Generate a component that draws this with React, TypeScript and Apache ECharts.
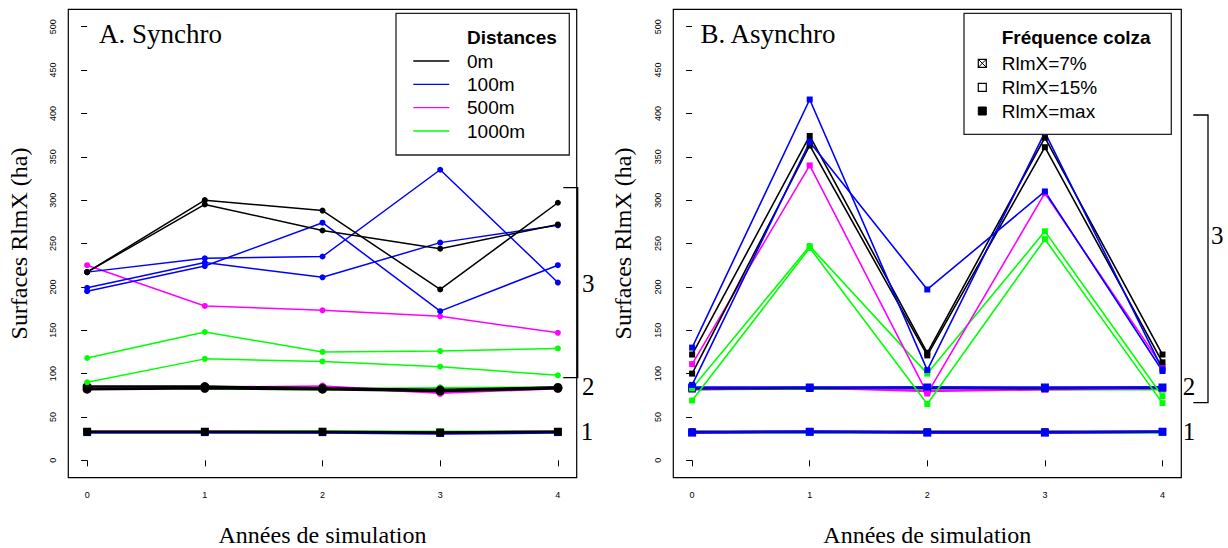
import React, { useEffect, useRef } from "react";
import * as echarts from "echarts";

// ---------- data ----------
const years = [0, 1, 2, 3, 4];
const yTicks = [0, 50, 100, 150, 200, 250, 300, 350, 400, 450, 500];

// A. Synchro — group 3
const aBlack1 = [217, 300, 288, 197, 297];
const aBlack2 = [217, 295, 265, 244, 272];
const aBlue1 = [217, 233, 235, 335, 205];
const aBlue2 = [199, 228, 211, 251, 271];
const aBlue3 = [195, 224, 274, 172, 225];
const aMagenta1 = [225, 178, 173, 166, 147];
const aGreen1 = [118, 148, 125, 126, 129];
const aGreen2 = [90, 117, 114, 108, 98];
// A. Synchro — group 2
const aBlack3 = [85, 85, 83, 81, 84];
const aBlack4 = [82, 83, 82, 80, 83];
const aBlue4 = [83, 84, 83, 80, 84];
const aMagenta2 = [83, 84, 85, 78, 83];
const aGreen3 = [84, 83, 82, 83, 84];
// A. Synchro — group 1
const aBlack5 = [33, 33, 33, 32, 33];
const aMagenta3 = [33, 33, 32, 32, 33];
const aGreen4 = [33, 33, 33, 33, 33];
const aBlue5 = [32, 32, 32, 31, 32];

// B. Asynchro — group 3
const bBlack1 = [122, 374, 124, 372, 122];
const bBlack2 = [100, 363, 121, 361, 113];
const bBlue1 = [130, 416, 104, 378, 105];
const bBlue2 = [87, 367, 197, 310, 103];
const bMagenta1 = [111, 340, 77, 308, 108];
const bGreen1 = [83, 247, 100, 264, 74];
const bGreen2 = [69, 245, 65, 255, 66];
// B. Asynchro — group 2
const bBlack3 = [83, 83, 84, 83, 84];
const bBlue3 = [84, 84, 84, 84, 84];
const bMagenta2 = [82, 84, 80, 82, 83];
const bGreen3 = [82, 83, 82, 82, 82];
// B. Asynchro — group 1
const bBlack4 = [33, 33, 33, 33, 33];
const bBlue4 = [32, 33, 32, 32, 33];
const bGreen4 = [32, 32, 32, 32, 32];
const bMagenta3 = [32, 33, 32, 32, 33];

const distanceNames = ["0m", "100m", "500m", "1000m"];
const freqNames = ["RlmX=7%", "RlmX=15%", "RlmX=max"];

const BLACK = "#000000";
const BLUE = "#0000ff";
const MAGENTA = "#ff00ff";
const GREEN = "#00ff00";
const distanceColors = [BLACK, BLUE, MAGENTA, GREEN];

type Def = { v: number[]; c: string; sym: string; size: number; w: number };

const panelA: Def[] = [
  { v: aGreen4, c: GREEN, sym: "rect", size: 7, w: 2.5 },
  { v: aMagenta3, c: MAGENTA, sym: "rect", size: 7, w: 2.5 },
  { v: aBlue5, c: BLUE, sym: "rect", size: 7, w: 2.5 },
  { v: aBlack5, c: BLACK, sym: "rect", size: 8, w: 2.5 },
  { v: aGreen3, c: GREEN, sym: "circle", size: 8, w: 2.5 },
  { v: aBlue4, c: BLUE, sym: "circle", size: 8, w: 2.5 },
  { v: aMagenta2, c: MAGENTA, sym: "circle", size: 8, w: 2.5 },
  { v: aBlack4, c: BLACK, sym: "circle", size: 9, w: 2.5 },
  { v: aBlack3, c: BLACK, sym: "circle", size: 9, w: 2.5 },
  { v: aGreen1, c: GREEN, sym: "circle", size: 6, w: 1.5 },
  { v: aGreen2, c: GREEN, sym: "circle", size: 6, w: 1.5 },
  { v: aMagenta1, c: MAGENTA, sym: "circle", size: 6, w: 1.5 },
  { v: aBlue1, c: BLUE, sym: "circle", size: 6, w: 1.5 },
  { v: aBlue2, c: BLUE, sym: "circle", size: 6, w: 1.5 },
  { v: aBlue3, c: BLUE, sym: "circle", size: 6, w: 1.5 },
  { v: aBlack1, c: BLACK, sym: "circle", size: 6, w: 1.5 },
  { v: aBlack2, c: BLACK, sym: "circle", size: 6, w: 1.5 },
];

const panelB: Def[] = [
  { v: bGreen4, c: GREEN, sym: "rect", size: 7, w: 2.5 },
  { v: bMagenta3, c: MAGENTA, sym: "rect", size: 7, w: 2.5 },
  { v: bBlack4, c: BLACK, sym: "rect", size: 7, w: 2.5 },
  { v: bBlue4, c: BLUE, sym: "rect", size: 8, w: 2.5 },
  { v: bGreen3, c: GREEN, sym: "rect", size: 7, w: 2.5 },
  { v: bMagenta2, c: MAGENTA, sym: "rect", size: 7, w: 2.5 },
  { v: bBlack3, c: BLACK, sym: "rect", size: 7, w: 2.5 },
  { v: bBlue3, c: BLUE, sym: "rect", size: 8, w: 2.5 },
  { v: bGreen1, c: GREEN, sym: "rect", size: 6, w: 1.6 },
  { v: bGreen2, c: GREEN, sym: "rect", size: 6, w: 1.6 },
  { v: bMagenta1, c: MAGENTA, sym: "rect", size: 6, w: 1.6 },
  { v: bBlack1, c: BLACK, sym: "rect", size: 6, w: 1.6 },
  { v: bBlack2, c: BLACK, sym: "rect", size: 6, w: 1.6 },
  { v: bBlue1, c: BLUE, sym: "rect", size: 6, w: 1.6 },
  { v: bBlue2, c: BLUE, sym: "rect", size: 6, w: 1.6 },
];

const SANS = "'Liberation Sans', Arial, Helvetica, sans-serif";
const SERIF = "'Liberation Serif', 'Times New Roman', serif";

function buildSeries(defs: Def[], idx: number) {
  return defs.map((d) => ({
    type: "line",
    xAxisIndex: idx,
    yAxisIndex: idx,
    data: years.map((x, i) => [x, d.v[i]]),
    symbol: d.sym,
    symbolSize: d.size,
    showSymbol: true,
    lineStyle: { color: d.c, width: d.w },
    itemStyle: { color: d.c, borderWidth: 0 },
    emphasis: { disabled: true },
    silent: true,
    z: 2,
  }));
}

function xAxisDef(idx: number) {
  return {
    type: "value",
    gridIndex: idx,
    min: -0.16,
    max: 4.16,
    axisLine: { show: false },
    splitLine: { show: false },
    axisTick: {
      show: true,
      customValues: years,
      length: 6,
      lineStyle: { color: "#000", width: 1 },
    },
    axisLabel: {
      customValues: years,
      fontSize: 9,
      color: "#000",
      margin: 13,
      fontFamily: SANS,
    },
  };
}

function yAxisDef(idx: number) {
  return {
    type: "value",
    gridIndex: idx,
    min: -20,
    max: 520,
    axisLine: { show: false },
    splitLine: { show: false },
    axisTick: {
      show: true,
      customValues: yTicks,
      length: 6,
      lineStyle: { color: "#000", width: 1 },
    },
    axisLabel: {
      customValues: yTicks,
      fontSize: 9,
      color: "#000",
      margin: 11,
      rotate: 90,
      fontFamily: SANS,
    },
  };
}

function txt(x: number, y: number, text: string, font: any, extra: any = {}) {
  return {
    type: "text",
    x,
    y,
    silent: true,
    ...extra,
    style: {
      text,
      fill: "#000",
      align: "left",
      verticalAlign: "middle",
      ...font,
    },
  };
}

export default function App() {
  const ref = useRef<HTMLDivElement>(null);
  useEffect(() => {
    if (!ref.current) return;
    const chart = echarts.init(ref.current, null, { renderer: "svg" });

    const serifBig = { fontFamily: SERIF, fontSize: 27 };
    const serifAxis = { fontFamily: SERIF, fontSize: 24 };
    const serifNum = { fontFamily: SERIF, fontSize: 25 };
    const legFont = { fontFamily: SANS, fontSize: 19 };
    const legBold = { fontFamily: SANS, fontSize: 19, fontWeight: "bold" };

    const legendRowsA = [61, 84.3, 107.7, 131];
    const legendRowsB = [63.3, 87.3, 111];

    const graphics: any[] = [
      // panel titles
      txt(99, 34, "A. Synchro", serifBig),
      txt(700.5, 34, "B. Asynchro", serifBig),
      // y titles
      txt(18.5, 243.5, "Surfaces RlmX (ha)", { ...serifAxis, align: "center" }, { rotation: Math.PI / 2 }),
      txt(622.5, 243.5, "Surfaces RlmX (ha)", { ...serifAxis, align: "center" }, { rotation: Math.PI / 2 }),
      // x titles
      txt(322.5, 534.5, "Années de simulation", { ...serifAxis, align: "center" }),
      txt(927.3, 534.5, "Années de simulation", { ...serifAxis, align: "center" }),
      // legend A
      {
        type: "rect",
        shape: { x: 396, y: 13.3, width: 173.3, height: 141.7 },
        style: { fill: "#fff", stroke: "#222", lineWidth: 1.3 },
        z: 10,
        silent: true,
      },
      { ...txt(467, 37.3, "Distances", legBold), z: 11 },
      ...distanceNames.map((n, i) => ({ ...txt(467, legendRowsA[i], n, legFont), z: 11 })),
      ...distanceColors.map((c, i) => ({
        type: "line",
        shape: { x1: 413.3, y1: legendRowsA[i], x2: 449.3, y2: legendRowsA[i] },
        style: { stroke: c, lineWidth: 1.3 },
        z: 11,
        silent: true,
      })),
      // legend B
      {
        type: "rect",
        shape: { x: 964, y: 13.3, width: 207.3, height: 121 },
        style: { fill: "#fff", stroke: "#222", lineWidth: 1.3 },
        z: 10,
        silent: true,
      },
      { ...txt(1001.7, 37.3, "Fréquence colza", legBold), z: 11 },
      ...freqNames.map((n, i) => ({ ...txt(1001.7, legendRowsB[i], n, legFont), z: 11 })),
      // ⊠ marker
      {
        type: "rect",
        shape: { x: 978.3, y: legendRowsB[0] - 4, width: 8, height: 8 },
        style: { fill: "#fff", stroke: "#000", lineWidth: 1.2 },
        z: 11,
        silent: true,
      },
      {
        type: "line",
        shape: { x1: 978.3, y1: legendRowsB[0] - 4, x2: 986.3, y2: legendRowsB[0] + 4 },
        style: { stroke: "#000", lineWidth: 1 },
        z: 12,
        silent: true,
      },
      {
        type: "line",
        shape: { x1: 986.3, y1: legendRowsB[0] - 4, x2: 978.3, y2: legendRowsB[0] + 4 },
        style: { stroke: "#000", lineWidth: 1 },
        z: 12,
        silent: true,
      },
      // □ marker
      {
        type: "rect",
        shape: { x: 978.3, y: legendRowsB[1] - 4, width: 8, height: 8 },
        style: { fill: "#fff", stroke: "#000", lineWidth: 1.2 },
        z: 11,
        silent: true,
      },
      // ■ marker
      {
        type: "rect",
        shape: { x: 978.3, y: legendRowsB[2] - 4, width: 8, height: 8 },
        style: { fill: "#000", stroke: "#000", lineWidth: 1 },
        z: 11,
        silent: true,
      },
      // brackets A
      {
        type: "polyline",
        shape: { points: [[563.3, 187.7], [577.7, 187.7], [577.7, 377.7], [563.3, 377.7]] },
        style: { stroke: "#000", lineWidth: 1.3, fill: "none" },
        silent: true,
      },
      txt(588.3, 283.3, "3", { ...serifNum, align: "center" }),
      txt(588.3, 386.7, "2", { ...serifNum, align: "center" }),
      txt(587, 431.7, "1", { ...serifNum, align: "center" }),
      // brackets B
      {
        type: "polyline",
        shape: { points: [[1193.3, 115], [1208, 115], [1208, 402.7], [1193.3, 402.7]] },
        style: { stroke: "#000", lineWidth: 1.3, fill: "none" },
        silent: true,
      },
      txt(1217.3, 235, "3", { ...serifNum, align: "center" }),
      txt(1189, 386.7, "2", { ...serifNum, align: "center" }),
      txt(1189, 431.7, "1", { ...serifNum, align: "center" }),
    ];

    chart.setOption({
      animation: false,
      backgroundColor: "#fff",
      grid: [
        { left: 68.3, top: 9.3, width: 508.4, height: 468.4, show: true, borderColor: "#000", borderWidth: 1.2, backgroundColor: "transparent", containLabel: false },
        { left: 673.3, top: 9.3, width: 508, height: 468.4, show: true, borderColor: "#000", borderWidth: 1.2, backgroundColor: "transparent", containLabel: false },
      ],
      xAxis: [xAxisDef(0), xAxisDef(1)],
      yAxis: [yAxisDef(0), yAxisDef(1)],
      series: [...buildSeries(panelA, 0), ...buildSeries(panelB, 1)],
      graphic: graphics,
    });
    return () => chart.dispose();
  }, []);
  return (
    <div
      ref={ref}
      style={{ position: "absolute", left: 0, top: 0, width: 1228, height: 548 }}
    />
  );
}
